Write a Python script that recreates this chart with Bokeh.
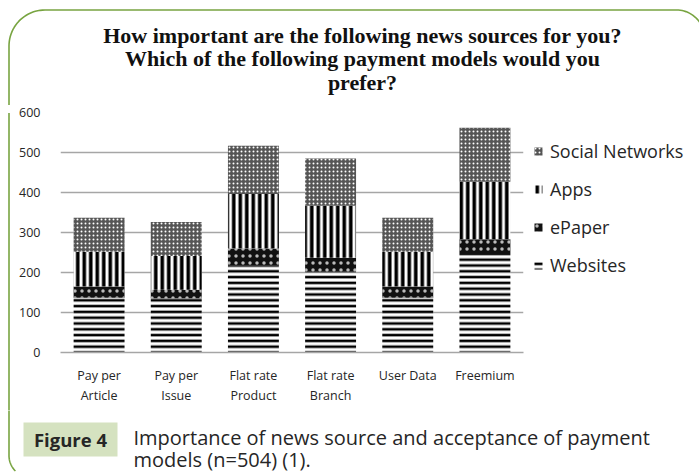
from bokeh.plotting import figure
from bokeh.models import Legend, LegendItem, FactorRange, FixedTicker, Range1d
from bokeh.layouts import column, row
from bokeh.core.properties import value
from bokeh.embed import file_html
from bokeh.resources import INLINE
import numpy as np

categories = ["Pay per\nArticle", "Pay per\nIssue", "Flat rate\nProduct",
              "Flat rate\nBranch", "User Data", "Freemium"]
series = ["Websites", "ePaper", "Apps", "Social Networks"]
websites = [137, 135, 218, 202, 137, 246]
epaper = [28, 22, 42, 35, 28, 37]
apps = [87, 84, 136, 130, 87, 144]
social = [85, 85, 121, 118, 85, 135]
y_ticks = [0, 100, 200, 300, 400, 500, 600]

title_lines = ["How important are the following news sources for you?",
               "Which of the following payment models would you",
               "prefer?"]
caption_tag = "Figure 4"
caption_lines = ["Importance of news source and acceptance of payment",
                 "models (n=504) (1)."]

# page geometry (pixels)
W, H = 699, 473
FL, FR, FT, FB = 60, 523, 112, 352   # chart frame edges
AXIS_H = 58
CHART_TOP, CHART_BOTTOM = 105, FB + AXIS_H
STRIP = 15
GREEN = "#78a441"
BX, BY = 8.5, 9.5   # border left x, top y
TXT = "#262626"


def blank(width, height, x0, x1, y0, y1):
    f = figure(frame_width=width, frame_height=height, x_range=Range1d(x0, x1),
               y_range=Range1d(y1, y0), output_backend="svg",
               toolbar_location=None, min_border=0,
               x_axis_type=None, y_axis_type=None)
    f.outline_line_color = None
    f.xgrid.visible = False
    f.ygrid.visible = False
    return f


def arc_pts(cx, cy, r, a0, a1, n=24):
    a = np.linspace(a0, a1, n)
    return list(cx + r * np.cos(a)), list(cy - r * np.sin(a))

# ---------- title panel ----------
top = blank(W, CHART_TOP, 0, W, 0, CHART_TOP)
R1, R2 = 36, 28
ax1, ay1 = arc_pts(BX + R1, BY + R1, R1, np.pi, np.pi / 2)
ax2, ay2 = arc_pts(676, BY + R2, R2, np.pi / 2, 0)
top.line(x=[BX] + ax1 + ax2, y=[CHART_TOP + 2] + ay1 + ay2,
         line_color=GREEN, line_width=1.6)
top.text(x=[362] * 3, y=[35, 58, 82], text=title_lines, text_align="center",
         text_baseline="middle", text_font=value("Liberation Serif"),
         text_font_style="bold", text_font_size="22px", text_color="#111111")

# ---------- left strip with the frame line ----------
strip = blank(STRIP, CHART_BOTTOM - CHART_TOP, 0, STRIP, CHART_TOP, CHART_BOTTOM)
strip.segment(x0=[BX], y0=[CHART_TOP + 0.5], x1=[BX], y1=[CHART_BOTTOM - 0.5],
              line_color=GREEN, line_width=1.6)

# ---------- chart ----------
p = figure(frame_width=FR - FL, frame_height=FB - FT,
           x_range=FactorRange(*categories, range_padding=0),
           y_range=(0, 600), output_backend="svg", toolbar_location=None,
           min_border_left=FL - STRIP, min_border_right=W - FR,
           min_border_top=FT - CHART_TOP, min_border_bottom=AXIS_H)
p.outline_line_color = None

data = dict(Websites=websites, ePaper=epaper, Apps=apps)
data["Social Networks"] = social

styles = {
    "Websites": dict(fill_color="white", hatch_pattern="horizontal_line",
                     hatch_color="black", hatch_scale=5.8, hatch_weight=2.6),
    "ePaper": dict(fill_color="#111111", hatch_pattern="dot",
                   hatch_color="#bbbbbb", hatch_scale=7, hatch_weight=2),
    "Apps": dict(fill_color="white", hatch_pattern="vertical_line",
                 hatch_color="black", hatch_scale=6.5, hatch_weight=3.6),
    "Social Networks": dict(fill_color="#555555", hatch_pattern="dot",
                            hatch_color="white", hatch_scale=4, hatch_weight=2.4),
}

bottoms = np.zeros(len(categories))
renderers = {}
for s in series:
    vals = np.array(data[s], dtype=float)
    r = p.vbar(x=categories, bottom=list(bottoms), top=list(bottoms + vals),
               width=0.66, line_color=None, **styles[s])
    renderers[s] = r
    bottoms = bottoms + vals

p.xgrid.grid_line_color = None
p.ygrid.grid_line_color = "#a6a6a6"
p.ygrid.grid_line_width = 1.4
p.yaxis.ticker = FixedTicker(ticks=y_ticks)
p.yaxis.axis_line_color = None
p.yaxis.major_tick_line_color = None
p.yaxis.minor_tick_line_color = None
p.yaxis.major_label_standoff = 14
p.yaxis.major_label_text_font = "Open Sans"
p.yaxis.major_label_text_font_size = "12.5px"
p.yaxis.major_label_text_color = TXT
p.xaxis.axis_line_color = "#a6a6a6"
p.xaxis.axis_line_width = 1.4
p.xaxis.major_tick_line_color = None
p.xaxis.minor_tick_line_color = None
p.xaxis.major_label_standoff = 8
p.xaxis.major_label_text_font = "Open Sans"
p.xaxis.major_label_text_font_size = "12.5px"
p.xaxis.major_label_text_color = TXT

legend = Legend(items=[LegendItem(label=s, renderers=[renderers[s]]) for s in reversed(series)],
                location="top_left", orientation="vertical",
                title=" ", title_text_font_size="15px", title_standoff=0,
                background_fill_alpha=0, border_line_color=None,
                label_text_font="Open Sans", label_text_font_size="18px",
                label_text_color=TXT, glyph_width=10, glyph_height=10,
                label_standoff=7, spacing=14, padding=0, margin=10,
                label_height=20)
p.add_layout(legend, "right")

# ---------- caption ----------
cap = blank(W, H - CHART_BOTTOM, 0, W, CHART_BOTTOM, H)
R3 = 22
ax3, ay3 = arc_pts(BX + R3, 455, R3, np.pi, 1.25 * np.pi)
cap.line(x=[BX] + ax3, y=[CHART_BOTTOM - 2] + ay3, line_color=GREEN, line_width=1.6)
cap.quad(left=[23], right=[117], top=[422], bottom=[456], fill_color="#d5e2c0",
         line_color=None)
cap.text(x=[70], y=[439], text=[caption_tag], text_align="center",
         text_baseline="middle", text_font=value("Open Sans"), text_font_style="bold",
         text_font_size="18.5px", text_color=TXT)
cap.text(x=[133, 133], y=[437, 459], text=caption_lines, text_align="left",
         text_baseline="middle", text_font=value("Open Sans"), text_font_size="20px",
         text_color=TXT)

layout = column(top, row(strip, p, spacing=0), cap, spacing=0)

open("out.html", "w").write(file_html(layout, INLINE))
